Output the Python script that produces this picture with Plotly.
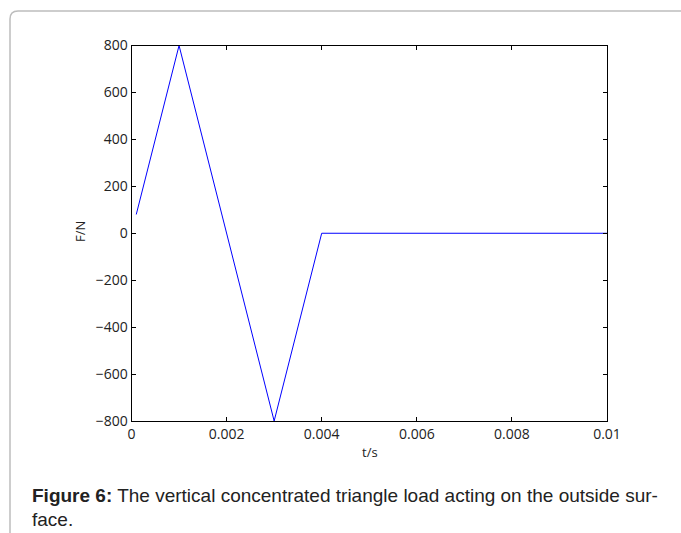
import plotly.graph_objects as go

t_s = [0.0001, 0.001, 0.003, 0.004, 0.01]
force_n = [80, 800, -800, 0, 0]
x_ticks = [0, 0.002, 0.004, 0.006, 0.008, 0.01]
x_tick_labels = ["0", "0.002", "0.004", "0.006", "0.008", "0.01"]
y_ticks = [-800, -600, -400, -200, 0, 200, 400, 600, 800]
y_tick_labels = ["\u2212800", "\u2212600", "\u2212400", "\u2212200", "0", "200", "400", "600", "800"]

W, H = 681, 533
fig = go.Figure()
fig.add_trace(go.Scatter(x=t_s, y=force_n, mode="lines",
                         line=dict(color="#0000ff", width=1), showlegend=False))

axis_common = dict(showline=True, linecolor="black", linewidth=1, mirror="ticks",
                   ticks="inside", ticklen=4, tickcolor="black", tickwidth=1,
                   showgrid=False, zeroline=False, automargin=False,
                   tickfont=dict(family="Open Sans", size=14, color="#222"))
fig.update_xaxes(range=[0, 0.01], tickvals=x_ticks, ticktext=x_tick_labels,
                 domain=[131.5 / W, 607 / W], **axis_common)
fig.update_yaxes(range=[-800, 800], tickvals=y_ticks, ticktext=y_tick_labels,
                 domain=[(H - 421) / H, (H - 45.5) / H], **axis_common)

# border with rounded top-left corner
x0, y0, r = 10 / W, (H - 11) / H, 8
fig.add_shape(type="path", xref="paper", yref="paper",
              path=f"M {x0} 0 L {x0} {(H - 11 - r) / H} Q {x0} {y0} {(10 + r) / W} {y0} L 1 {y0}",
              line=dict(color="#bdbdbd", width=1.5))

fig.add_annotation(text="F/N", x=80 / W, y=(H - 232) / H, xref="paper", yref="paper",
                   xanchor="center", yanchor="middle",
                   showarrow=False, textangle=-90,
                   font=dict(family="Open Sans", size=13, color="#222"))
fig.add_annotation(text="t/s", x=370 / W, y=(H - 452) / H, xref="paper", yref="paper",
                   xanchor="center", yanchor="middle",
                   showarrow=False, font=dict(family="Open Sans", size=13, color="#222"))
fig.add_annotation(text="<b>Figure 6:</b> The vertical concentrated triangle load acting on the outside sur-",
                   x=30 / W, y=(H - 495) / H, xref="paper", yref="paper",
                   xanchor="left", yanchor="middle",
                   showarrow=False, font=dict(family="Liberation Sans", size=19, color="#222"))
fig.add_annotation(text="face.", x=30 / W, y=(H - 519) / H, xref="paper", yref="paper",
                   xanchor="left", yanchor="middle", showarrow=False,
                   font=dict(family="Liberation Sans", size=19, color="#222"))

fig.update_layout(width=W, height=H, margin=dict(l=0, r=0, t=0, b=0),
                  paper_bgcolor="white", plot_bgcolor="white")
fig.write_html("out.html")
